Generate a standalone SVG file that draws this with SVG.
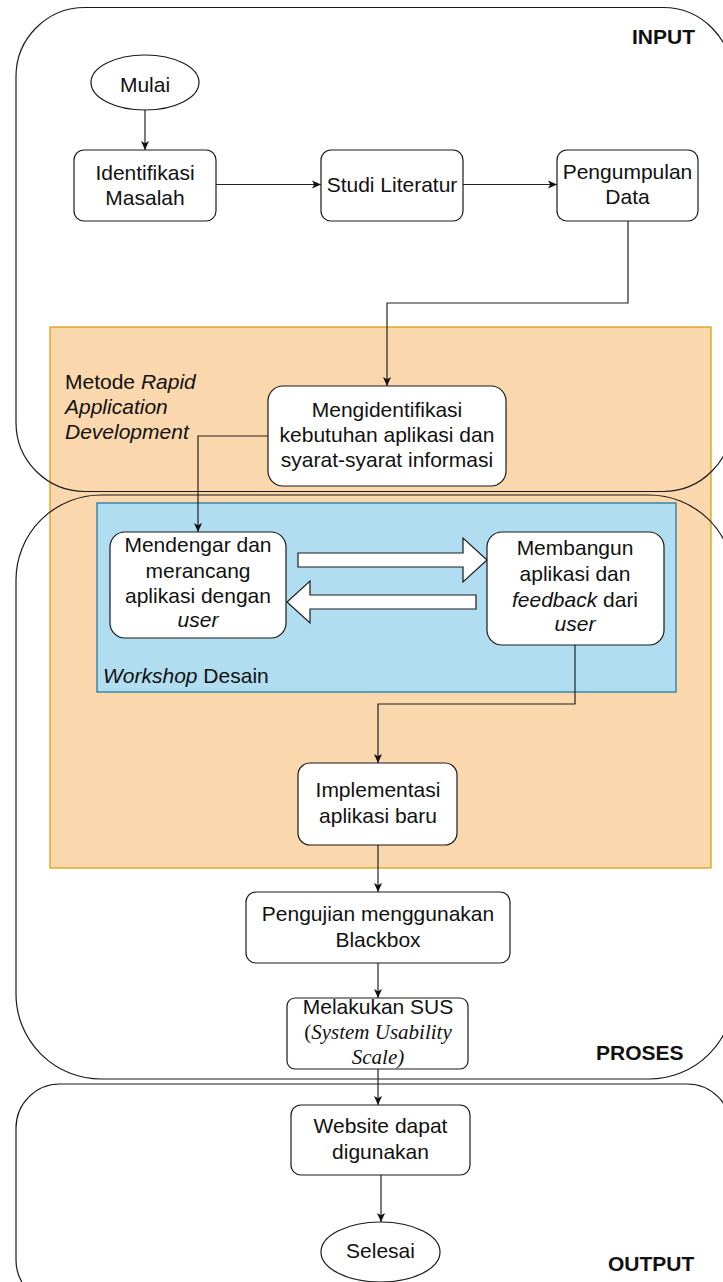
<svg xmlns="http://www.w3.org/2000/svg" width="723" height="1282" viewBox="0 0 723 1282">
<style>
text{font-family:"Liberation Sans",Arial,sans-serif;font-size:21px;fill:#111;}
.c{text-anchor:middle;}
.i{font-style:italic;}
.b{font-weight:bold;}
.serif{font-family:"Liberation Serif","Times New Roman",serif;}
.box{fill:#fff;stroke:#1a1a1a;stroke-width:1.2;}
.cont{fill:none;stroke:#1a1a1a;stroke-width:1.2;}
.edge{fill:none;stroke:#222;stroke-width:1.2;}
.blk{fill:#fff;stroke:#1a1a1a;stroke-width:1.2;stroke-linejoin:miter;}
</style>
<defs>
<marker id="ah" viewBox="0 0 10 10" refX="10" refY="5" markerWidth="9" markerHeight="9" markerUnits="userSpaceOnUse" orient="auto">
<path d="M0,0.5 L10,5 L0,9.5 L2.5,5 z" fill="#111"/>
</marker>
</defs>
<rect width="723" height="1282" fill="#fff"/>

<g id="rad-container">
<rect x="50" y="327" width="661" height="541" fill="#fad7ac" stroke="#d79b00" stroke-width="1.2"/>
<text x="65" y="389">Metode <tspan class="i">Rapid</tspan></text>
<text x="65" y="414" class="i">Application</text>
<text x="65" y="439" class="i">Development</text>
</g>

<g id="input-container">
<rect class="cont" x="16" y="7.5" width="716" height="484" rx="69" ry="69"/>
<text x="632" y="44" class="b">INPUT</text>
</g>

<g id="proses-container">
<rect class="cont" x="16" y="495" width="718" height="584" rx="85" ry="85"/>
<text x="596" y="1060" class="b">PROSES</text>
</g>

<g id="output-container">
<rect class="cont" x="16" y="1084" width="715" height="220" rx="44" ry="44"/>
<text x="608" y="1271" class="b">OUTPUT</text>
</g>

<g id="workshop-container">
<rect x="97" y="503" width="579" height="189" fill="#b1ddf0" stroke="#10739e" stroke-width="1.2"/>
<text x="103" y="683"><tspan class="i">Workshop</tspan> Desain</text>
</g>

<g id="connectors">
<line class="edge" x1="145" y1="110" x2="145" y2="150" marker-end="url(#ah)"/>
<line class="edge" x1="216" y1="184.5" x2="321" y2="184.5" marker-end="url(#ah)"/>
<line class="edge" x1="463" y1="184.5" x2="557" y2="184.5" marker-end="url(#ah)"/>
<polyline class="edge" points="628,221 628,303 387,303 387,386" marker-end="url(#ah)"/>
<polyline class="edge" points="268,436 198,436 198,532" marker-end="url(#ah)"/>
<polyline class="edge" points="575,645 575,704 378,704 378,763" marker-end="url(#ah)"/>
<line class="edge" x1="378" y1="845" x2="378" y2="892" marker-end="url(#ah)"/>
<line class="edge" x1="378" y1="963" x2="378" y2="998" marker-end="url(#ah)"/>
<line class="edge" x1="378" y1="1069" x2="378" y2="1105" marker-end="url(#ah)"/>
<line class="edge" x1="381" y1="1175" x2="381" y2="1222" marker-end="url(#ah)"/>
<polygon class="blk" points="298,553 463,553 463,538 487,560 463,582 463,567 298,567"/>
<polygon class="blk" points="476,595 310,595 310,581 287,602 310,623 310,609 476,609"/>
</g>

<g id="mulai">
<ellipse class="box" cx="145" cy="82.5" rx="54" ry="27.5"/>
<text x="145" y="92" class="c">Mulai</text>
</g>

<g id="identifikasi">
<rect class="box" x="74" y="150" width="142" height="71" rx="10"/>
<text x="145" y="180" class="c">Identifikasi</text>
<text x="145" y="205" class="c">Masalah</text>
</g>

<g id="studi">
<rect class="box" x="321" y="150" width="142" height="71" rx="10"/>
<text x="392" y="192" class="c">Studi Literatur</text>
</g>

<g id="pengumpulan">
<rect class="box" x="557" y="150" width="141" height="71" rx="10"/>
<text x="627.5" y="179" class="c">Pengumpulan</text>
<text x="627.5" y="204" class="c">Data</text>
</g>

<g id="mengidentifikasi">
<rect class="box" x="268" y="386" width="238" height="100" rx="15"/>
<text x="387" y="417" class="c">Mengidentifikasi</text>
<text x="387" y="442" class="c">kebutuhan aplikasi dan</text>
<text x="387" y="467" class="c">syarat-syarat informasi</text>
</g>

<g id="mendengar">
<rect class="box" x="110" y="532" width="176" height="106" rx="15"/>
<text x="198" y="552" class="c">Mendengar dan</text>
<text x="198" y="578" class="c">merancang</text>
<text x="198" y="603" class="c">aplikasi dengan</text>
<text x="198" y="627" class="c i">user</text>
</g>

<g id="membangun">
<rect class="box" x="487" y="532" width="177" height="113" rx="15"/>
<text x="575" y="555" class="c">Membangun</text>
<text x="575" y="581" class="c">aplikasi dan</text>
<text x="575" y="607" class="c"><tspan class="i">feedback</tspan> dari</text>
<text x="575" y="631" class="c i">user</text>
</g>

<g id="implementasi">
<rect class="box" x="298" y="763" width="159" height="82" rx="12"/>
<text x="378" y="797" class="c">Implementasi</text>
<text x="378" y="823" class="c">aplikasi baru</text>
</g>

<g id="pengujian">
<rect class="box" x="246" y="892" width="264" height="71" rx="10"/>
<text x="378" y="921" class="c">Pengujian menggunakan</text>
<text x="378" y="947" class="c">Blackbox</text>
</g>

<g id="sus">
<rect class="box" x="287" y="998" width="181" height="71" rx="8"/>
<text x="378" y="1014" class="c">Melakukan SUS</text>
<text x="378" y="1039" class="c serif">(<tspan class="i">System Usability</tspan></text>
<text x="378" y="1064" class="c serif i">Scale)</text>
</g>

<g id="website">
<rect class="box" x="291" y="1105" width="179" height="70" rx="10"/>
<text x="380.5" y="1133" class="c">Website dapat</text>
<text x="380.5" y="1159" class="c">digunakan</text>
</g>

<g id="selesai">
<ellipse class="box" cx="380.5" cy="1252" rx="59.5" ry="30"/>
<text x="380.5" y="1258" class="c">Selesai</text>
</g>
</svg>
